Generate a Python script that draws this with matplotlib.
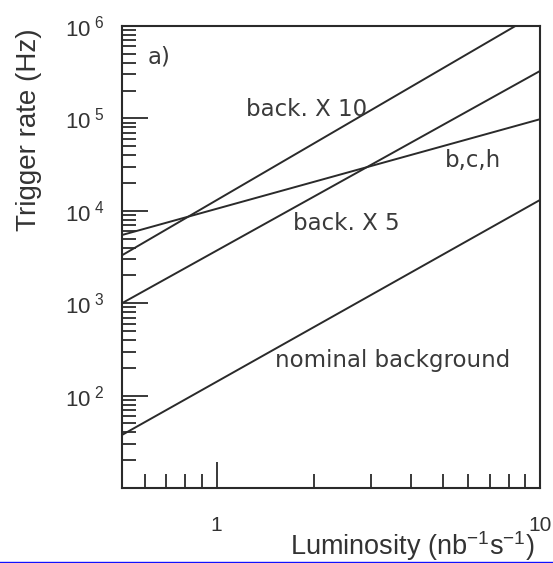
import matplotlib
matplotlib.use("Agg")
import matplotlib.pyplot as plt
from matplotlib.ticker import LogLocator, FixedLocator, FuncFormatter, NullFormatter
from matplotlib.lines import Line2D

# ---- data ----
lum_nominal = [0.51, 10.0]
rate_nominal = [37.5, 13100]
lum_back5 = [0.51, 10.0]
rate_back5 = [1000, 326000]
lum_back10 = [0.51, 10.0]
rate_back10 = [3300, 1.43e6]
lum_bch = [0.51, 10.0]
rate_bch = [5470, 98000]

curve_labels = ["back. X 10", "b,c,h", "back. X 5", "nominal background"]
panel_label = "a)"
x_tick_values = [1, 10]
x_tick_labels = ["1", "10"]
y_tick_values = [1e2, 1e3, 1e4, 1e5, 1e6]
y_tick_exponents = ["2", "3", "4", "5", "6"]

plt.rcParams['mathtext.fontset'] = 'custom'
plt.rcParams['mathtext.rm'] = 'Liberation Sans'
plt.rcParams['mathtext.it'] = 'Liberation Sans'

W, H = 553, 563
fig = plt.figure(figsize=(W / 100, H / 100), dpi=100)
L, R, T, B = 122, 540, 26, 488
ax = fig.add_axes([L / W, (H - B) / H, (R - L) / W, (B - T) / H])

ax.set_xscale('log')
ax.set_yscale('log')
ax.set_xlim(0.51, 10)
ax.set_ylim(10, 1e6)

lc = '#2a2a2a'
for xs, ys in [(lum_nominal, rate_nominal), (lum_back5, rate_back5),
               (lum_back10, rate_back10), (lum_bch, rate_bch)]:
    ax.plot(xs, ys, color=lc, lw=1.4, solid_capstyle='butt')

for s in ax.spines.values():
    s.set_linewidth(1.5)
    s.set_color('#2a2a2a')

txtc = '#333333'
ax.xaxis.set_major_locator(FixedLocator(x_tick_values))
ax.xaxis.set_major_formatter(FuncFormatter(lambda v, p: x_tick_labels[x_tick_values.index(v)] if v in x_tick_values else ""))
ax.xaxis.set_minor_locator(LogLocator(base=10, subs=range(2, 10)))
ax.xaxis.set_minor_formatter(NullFormatter())

ax.yaxis.set_major_locator(FixedLocator(y_tick_values))
def yfmt(v, p):
    for tv, e in zip(y_tick_values, y_tick_exponents):
        if abs(v - tv) / tv < 1e-6:
            return r'$\mathregular{10^{\ ' + e + '}}$'
    return ""
ax.yaxis.set_major_formatter(FuncFormatter(yfmt))
ax.yaxis.set_minor_locator(LogLocator(base=10, subs=range(2, 10), numticks=20))
ax.yaxis.set_minor_formatter(NullFormatter())

ax.tick_params(which='both', direction='in', top=False, right=False, colors='#2a2a2a',
               labelcolor=txtc, width=1.3)
ax.tick_params(which='major', length=19)
ax.tick_params(which='minor', length=10)
ax.tick_params(axis='x', which='major', pad=20, labelsize=15)
ax.tick_params(axis='y', which='major', pad=13, labelsize=16)
for lab in ax.get_xticklabels() + ax.get_yticklabels():
    lab.set_family('Liberation Sans')

ax.set_ylabel('Trigger rate (Hz)', loc='top', fontsize=20, family='Liberation Sans',
              color=txtc)
ax.yaxis.label.set_rotation_mode('anchor')
ax.yaxis.label.set_va('center')
ax.yaxis.set_label_coords((29 - L) / (R - L), (B - 28) / (B - T))

ax.set_xlabel(r'Luminosity (nb$^{\mathregular{-1}}$s$^{\mathregular{-1}}$)', loc='right',
              fontsize=19.5, family='Liberation Sans', color=txtc)
ax.xaxis.label.set_va('center')
ax.xaxis.set_label_coords((535 - L) / (R - L), (B - 546) / (B - T))

def axfrac(px, py):
    return (px - L) / (R - L), (B - py) / (B - T)

tf = dict(transform=ax.transAxes, fontsize=16.5, color='#3a3a3a', va='center', ha='left',
          family='DejaVu Sans')
ax.text(*axfrac(148, 57), panel_label, **tf)
ax.text(*axfrac(246, 110), curve_labels[0], **tf)
ax.text(*axfrac(445, 160), curve_labels[1], **tf)
ax.text(*axfrac(293, 223), curve_labels[2], **tf)
ax.text(*axfrac(275, 360), curve_labels[3], **tf)

fig.add_artist(Line2D([0, 1], [(H - 562) / H] * 2, transform=fig.transFigure,
                      color='#1010ff', lw=1.0))

fig.savefig('out.png', dpi=100)
